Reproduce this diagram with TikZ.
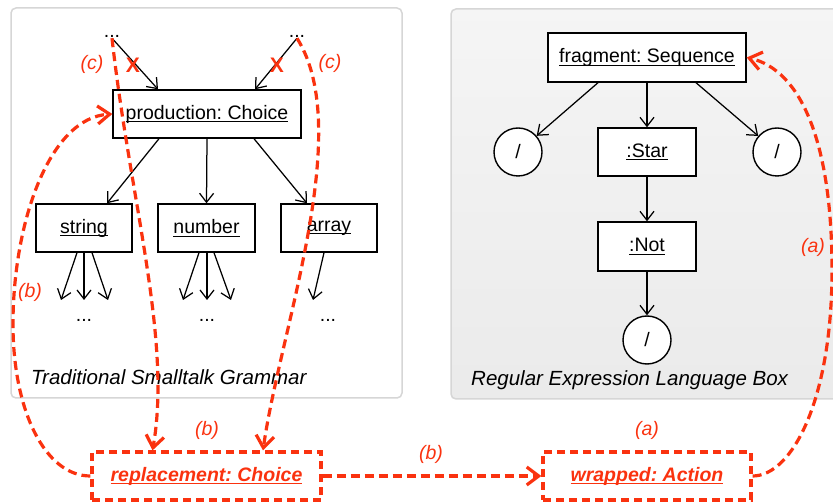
\documentclass[tikz,border=0pt]{standalone}
\usepackage{fontspec}
\setmainfont{Liberation Sans}
\usetikzlibrary{arrows.meta}
\definecolor{rd}{RGB}{250,50,15}
\definecolor{pborder}{RGB}{214,214,214}
\newcommand\myul[1]{\setbox0=\hbox{#1}\rlap{\rule[-3pt]{\wd0}{0.9pt}}\box0}
\frenchspacing
\begin{document}
\begin{tikzpicture}[x=1pt,y=-1pt,
  txt/.style={font=\fontsize{19.5}{22}\selectfont},
  box/.style={txt, draw, line width=1.4pt, fill=white, minimum height=48pt, inner sep=0pt},
  circ/.style={txt, draw, circle, line width=1.4pt, fill=white, minimum size=48pt, inner sep=0pt},
  rbox/.style={draw=rd, line width=3.2pt, dash pattern=on 8pt off 5pt, minimum height=48pt, inner sep=0pt, text=rd, font=\fontsize{19.5}{22}\selectfont\bfseries\itshape},
  arr/.style={-{Straight Barb[length=9pt,width=14pt]}, line width=1.25pt},
  rarr/.style={draw=rd, line width=3.2pt, dash pattern=on 9pt off 5pt, -{Straight Barb[length=12pt,width=18pt]}},
  lbl/.style={text=rd, font=\fontsize{19.5}{22}\selectfont\itshape, inner sep=0pt},
  xmark/.style={text=rd, font=\fontsize{21}{22}\selectfont\bfseries, inner sep=0pt},
  dots/.style={txt, inner sep=1pt},
  caption/.style={font=\fontsize{20.5}{22}\selectfont\itshape, inner sep=0pt, anchor=base west},
  panel/.style={draw=pborder, line width=1.5pt, rounded corners=5pt}
]
\useasboundingbox (0,0) rectangle (833,502);
\clip (0,0) rectangle (833,502);

% panels
\draw[panel, fill=white] (11,8) rectangle (402,398);
\draw[panel, top color=black!4, bottom color=black!8] (451,9) rectangle (850,399);

% left panel nodes
\node[dots] (dotsL) at (112,36) {...};
\node[dots] (dotsR) at (297,36) {...};
\node[box, minimum width=188pt] (prod) at (207,114) {\myul{production: Choice}};
\node[box, minimum width=96pt] (string) at (84,228) {\myul{string}};
\node[box, minimum width=97pt] (number) at (206.5,228) {\myul{number}};
\node[box, minimum width=96pt] (array) at (329,228) {\myul{array}};
\node[dots] (sdots) at (84,320) {...};
\node[dots] (ndots) at (207,320) {...};
\node[dots] (adots) at (328,320) {...};
\node[caption] (capL) at (31,385) {Traditional Smalltalk Grammar};

\coordinate (s1) at (61,300); \coordinate (s2) at (84,300); \coordinate (s3) at (108,300);
\coordinate (n1) at (183,300); \coordinate (n2) at (207,300); \coordinate (n3) at (231,300);
\coordinate (a1) at (313,300);

\draw[arr] (dotsL.south) -- ([xshift=-49pt]prod.north);
\draw[arr] (dotsR.south) -- ([xshift=48pt]prod.north);
\draw[arr] ([xshift=-48pt]prod.south) -- ([xshift=23pt]string.north);
\draw[arr] (prod.south) -- (number.north);
\draw[arr] ([xshift=47pt]prod.south) -- ([xshift=-22pt]array.north);
\draw[arr] ([xshift=-7pt]string.south) -- (s1);
\draw[arr] (string.south) -- (s2);
\draw[arr] ([xshift=8pt]string.south) -- (s3);
\draw[arr] ([xshift=-7.5pt]number.south) -- (n1);
\draw[arr] ([xshift=0.5pt]number.south) -- (n2);
\draw[arr] ([xshift=7.5pt]number.south) -- (n3);
\draw[arr] ([xshift=-5pt]array.south) -- (a1);

% right panel nodes
\node[box, minimum width=198pt, minimum height=49pt] (frag) at (647,57.5) {\myul{fragment: Sequence}};
\node[circ] (cL) at (518,152) {/};
\node[circ] (cR) at (777,152) {/};
\node[box, minimum width=98pt] (star) at (647,152) {\myul{:Star}};
\node[box, minimum width=98pt, minimum height=49pt] (not) at (647,246.5) {\myul{:Not}};
\node[circ] (cB) at (647,340) {/};
\node[caption] (capR) at (471,386) {Regular Expression Language Box};

\draw[arr] ([xshift=-49pt]frag.south) -- (cL);
\draw[arr] (frag.south) -- (star.north);
\draw[arr] ([xshift=49pt]frag.south) -- (cR);
\draw[arr] (star.south) -- (not.north);
\draw[arr] (not.south) -- (cB);

% bottom red boxes
\node[rbox, minimum width=229pt] (repl) at (206.5,476) {\myul{replacement: Choice}};
\node[rbox, minimum width=208pt] (wrap) at (647,476) {\myul{wrapped: Action}};

% red connectors
\draw[rarr] (dotsL.south) .. controls (130,200) and (172,340) .. ([xshift=-54pt]repl.north);
\draw[rarr] (dotsR.south) .. controls (355,130) and (280,330) .. ([xshift=56.5pt]repl.north);
\draw[rarr] (repl.west) .. controls (45,476) and (12,410) .. (13,320) .. controls (14,220) and (50,118) .. (prod.west);
\draw[rarr] (repl.east) -- (wrap.west);
\draw[rarr] (wrap.east) .. controls (792,476) and (832,400) .. (832,270) .. controls (832,140) and (800,70) .. (frag.east);

% red labels
\node[lbl] (lc1) at (92,64) {(c)};
\node[lbl] (lc2) at (330,63) {(c)};
\node[xmark] (x1) at (133,65) {X};
\node[xmark] (x2) at (277,65) {X};
\node[lbl] (lb1) at (30,292) {(b)};
\node[lbl] (lb2) at (207,430) {(b)};
\node[lbl] (lb3) at (431,454) {(b)};
\node[lbl] (la1) at (647,430) {(a)};
\node[lbl] (la2) at (813,247) {(a)};
\end{tikzpicture}
\end{document}
